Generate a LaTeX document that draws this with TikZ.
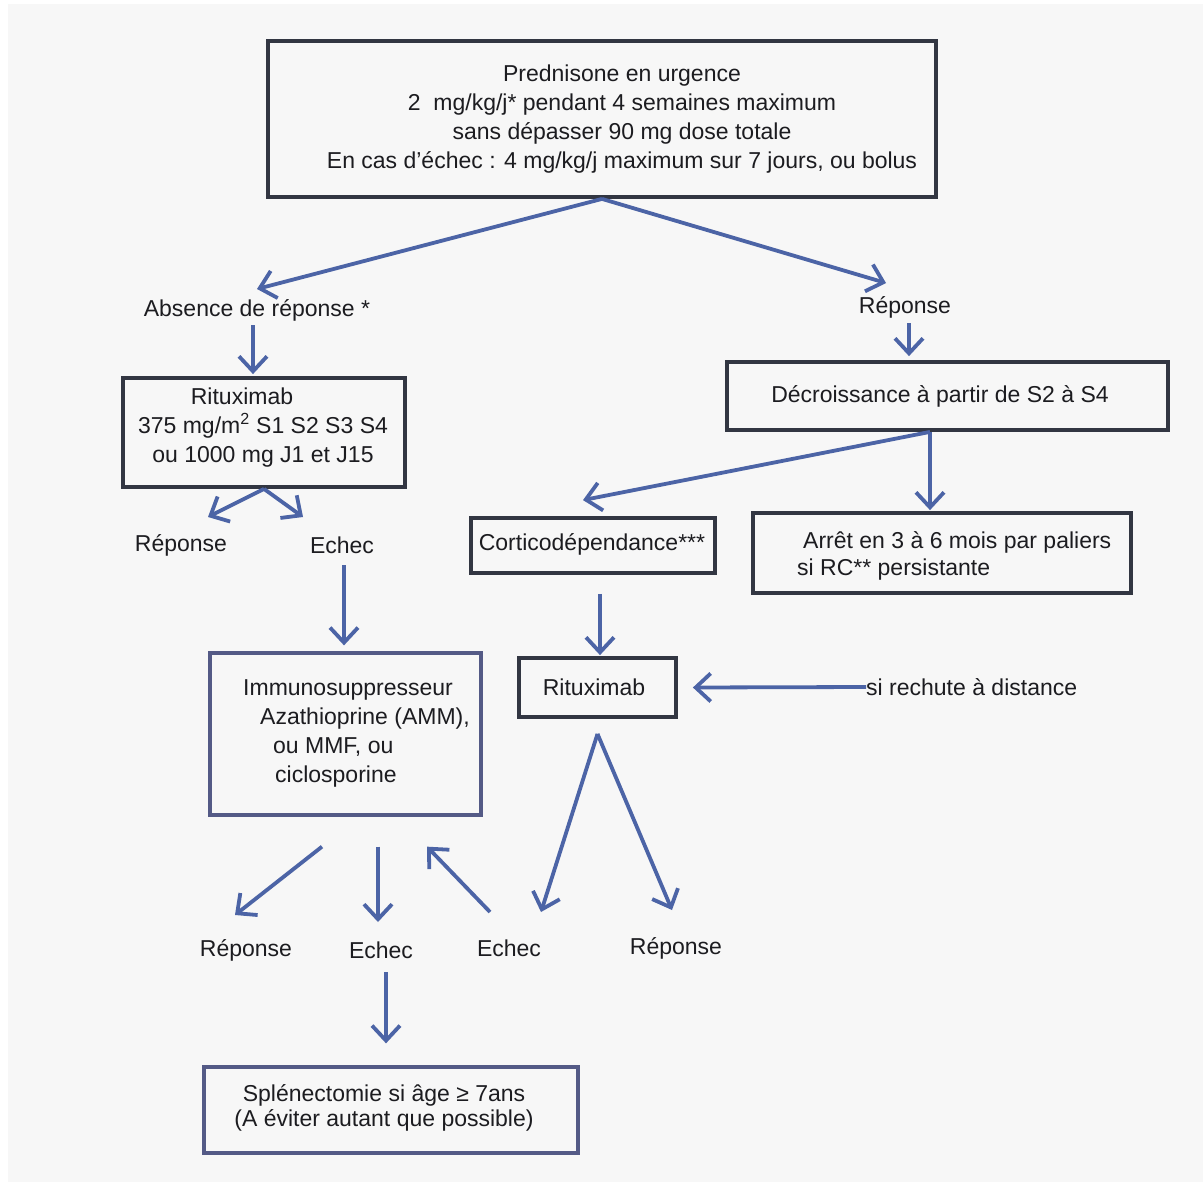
\documentclass[tikz,border=0pt]{standalone}
\usepackage{fontspec}
\setmainfont{Liberation Sans}
\usetikzlibrary{arrows.meta}
\definecolor{bgc}{HTML}{F7F7F7}
\definecolor{arrc}{RGB}{76,100,166}
\definecolor{boxc}{RGB}{50,54,66}
\definecolor{boxb}{RGB}{84,90,134}
\definecolor{txtc}{RGB}{28,28,32}

\begin{document}
\begin{tikzpicture}[x=1pt,y=-1pt,
  box/.style={draw=boxc, line width=3.8pt, inner sep=0pt},
  bluebox/.style={draw=boxb, line width=3.3pt, inner sep=0pt},
  txt/.style={text=txtc, font=\fontsize{23}{29}\selectfont, inner sep=0pt, align=center},
  arr/.style={draw=arrc, line width=3.8pt, -{Straight Barb[length=15pt,width=28pt]}}]

% page and background
\useasboundingbox (0,0) rectangle (1203,1186);
\fill[white] (0,0) rectangle (1203,1186);
\fill[bgc] (8,4) rectangle (1203,1182);

% boxes
\node[box, minimum width=668pt, minimum height=156pt] (topbox) at (602,119) {};
\node[txt] (toptext) at (622,119) {Prednisone en urgence\\2~ mg/kg/j* pendant 4 semaines maximum\\sans dépasser 90 mg dose totale\\En cas d'échec : 4 mg/kg/j maximum sur 7 jours, ou bolus};

\node[box, minimum width=282pt, minimum height=109pt] (ritbox) at (264,432.5) {};
\node[txt] (rittext) at (263,428) {Rituximab\hspace*{42pt}\\375 mg/m\textsuperscript{2} S1 S2 S3 S4\\ou 1000 mg J1 et J15};

\node[box, minimum width=441pt, minimum height=68pt] (decbox) at (947.5,396) {};
\node[txt] (dectext) at (940,396) {Décroissance à partir de S2 à S4};

\node[box, minimum width=244pt, minimum height=55pt] (cortbox) at (593,545.5) {};
\node[txt] (corttext) at (592,544) {Corticodépendance***};

\node[box, minimum width=378pt, minimum height=80pt] (arretbox) at (942,553) {};
\node[txt, align=left, anchor=west, font=\fontsize{23}{27}\selectfont] (arrettext) at (797,556) {\hspace*{6pt}Arrêt en 3 à 6 mois par paliers\\si RC** persistante};

\node[bluebox, minimum width=271pt, minimum height=162pt] (immbox) at (345.5,734) {};
\node[txt, align=left, anchor=west] (immtext) at (243,733) {Immunosuppresseur\\\hspace*{17pt}Azathioprine (AMM),\\\hspace*{30pt}ou MMF, ou\\\hspace*{32pt}ciclosporine};

\node[box, minimum width=157pt, minimum height=59pt] (rit2box) at (597.5,687.5) {};
\node[txt] (rit2text) at (594,687) {Rituximab};

\node[bluebox, minimum width=374pt, minimum height=86pt] (splbox) at (391,1110) {};
\node[txt, font=\fontsize{23}{25}\selectfont] (spltext) at (384,1108) {Splénectomie si âge ≥ 7ans\\(A éviter autant que possible)};

% free labels
\node[txt] (absence) at (257,310) {Absence de réponse *};
\node[txt] (repR) at (905,307) {Réponse};
\node[txt] (rep1) at (181,545) {Réponse};
\node[txt] (echec1) at (342,545) {Echec};
\node[txt] (rep2) at (246,950) {Réponse};
\node[txt] (echec2) at (381,950) {Echec};
\node[txt] (echec3) at (509,948) {Echec};
\node[txt] (rep3) at (676,948) {Réponse};
\node[txt, anchor=west] (rechute) at (866,687) {si rechute à distance};

% connectors
\draw[arr] (topbox.south) -- ([yshift=21pt]absence.center);
\draw[arr] (topbox.south) -- ([xshift=-19pt,yshift=24pt]repR.center);
\draw[arr] ([xshift=-4pt,yshift=-15pt]absence.center) -- ([xshift=-11pt,yshift=2pt]ritbox.north);
\draw[arr] (ritbox.south) -- ([xshift=27pt,yshift=28pt]rep1.center);
\draw[arr] (ritbox.south) -- ([xshift=-39pt,yshift=28pt]echec1.center);
\draw[arr] ([xshift=2pt,yshift=-20pt]echec1.center) -- ([xshift=-1.5pt,yshift=6pt]immbox.north);
\draw[arr] ([xshift=4pt,yshift=-16pt]repR.center) -- ([xshift=-38.5pt,yshift=4pt]decbox.north);
\draw[arr] ([xshift=-17.5pt]decbox.south) -- ([xshift=-10pt,yshift=16pt]cortbox.north);
\draw[arr] ([xshift=-17.5pt]decbox.south) -- ([xshift=-12pt,yshift=1pt]arretbox.north);
\draw[arr] ([xshift=7pt,yshift=-19pt]cortbox.south) -- ([xshift=2.5pt,yshift=1pt]rit2box.north);
\draw[arr] (rechute.west) -- ([xshift=15pt]rit2box.east);
\draw[arr] ([yshift=-15pt]rit2box.south) -- ([xshift=32pt,yshift=36pt]echec3.center);
\draw[arr] ([yshift=-15pt]rit2box.south) -- ([xshift=-4pt,yshift=38pt]rep3.center);
\draw[arr] ([xshift=-23.5pt,yshift=-30pt]immbox.south) -- ([xshift=-11pt,yshift=35pt]rep2.center);
\draw[arr] ([xshift=32.5pt,yshift=-30pt]immbox.south) -- ([xshift=-3pt,yshift=28pt]echec2.center);
\draw[arr] ([xshift=-19pt,yshift=36pt]echec3.center) -- ([xshift=81.5pt,yshift=-30pt]immbox.south);
\draw[arr] ([xshift=5pt,yshift=-22pt]echec2.center) -- ([xshift=-5pt,yshift=22pt]splbox.north);
\end{tikzpicture}
\end{document}
